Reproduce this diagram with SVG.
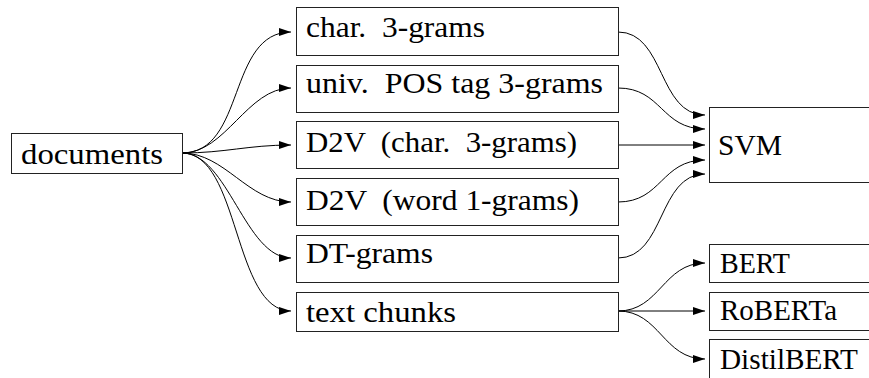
<svg xmlns="http://www.w3.org/2000/svg" width="869" height="378" viewBox="0 0 869 378">
<defs>
<marker id="arr" markerUnits="userSpaceOnUse" markerWidth="13" markerHeight="10" refX="12" refY="5" orient="auto" overflow="visible">
<path d="M0,1 L12,5 L0,9 Z" fill="#000"/>
</marker>
<style>
.box{fill:#fff;stroke:#222;stroke-width:1}
.lbl{font-family:"Liberation Serif","Times New Roman",serif;font-size:30px;fill:#000;white-space:pre}
.edge{fill:none;stroke:#000;stroke-width:1;marker-end:url(#arr)}
</style>
</defs>
<rect width="869" height="378" fill="#fff"/>
<g id="connectors">
<path class="edge" d="M182,153 C246,153 227,32 291,32"/>
<path class="edge" d="M182,153 C226,153 247,88 291,88"/>
<path class="edge" d="M182,153 C225,153 248,145 291,145"/>
<path class="edge" d="M182,153 C225,153 248,202 291,202"/>
<path class="edge" d="M182,153 C228,153 245,258 291,258"/>
<path class="edge" d="M182,153 C240,153 233,311 291,311"/>
<path class="edge" d="M618,32 C665,32 658,115 705,115"/>
<path class="edge" d="M618,88 C662,88 661,129 705,129"/>
<path class="edge" d="M618,145 L705,145"/>
<path class="edge" d="M618,202 C662,202 661,160 705,160"/>
<path class="edge" d="M618,258 C665,258 658,174 705,174"/>
<path class="edge" d="M618,311 C660,311 663,263 705,263"/>
<path class="edge" d="M618,311 L705,311"/>
<path class="edge" d="M618,311 C660,311 663,359 705,359"/>
</g>
<g id="documents">
<rect class="box" x="11.5" y="133.5" width="171" height="40"/>
<text class="lbl" x="21" y="164" textLength="142" lengthAdjust="spacingAndGlyphs">documents</text>
</g>
<g id="char3">
<rect class="box" x="296.5" y="7.5" width="322" height="48"/>
<text class="lbl" x="306" y="37" textLength="179" lengthAdjust="spacingAndGlyphs" xml:space="preserve">char.  3-grams</text>
</g>
<g id="pos3">
<rect class="box" x="296.5" y="65.5" width="322" height="47"/>
<text class="lbl" x="306" y="93" textLength="297" lengthAdjust="spacingAndGlyphs" xml:space="preserve">univ.  POS tag 3-grams</text>
</g>
<g id="d2vchar">
<rect class="box" x="296.5" y="121.5" width="322" height="47"/>
<text class="lbl" x="306" y="152" textLength="271" lengthAdjust="spacingAndGlyphs" xml:space="preserve">D2V  (char.  3-grams)</text>
</g>
<g id="d2vword">
<rect class="box" x="296.5" y="178.5" width="322" height="47"/>
<text class="lbl" x="306" y="210" textLength="273" lengthAdjust="spacingAndGlyphs" xml:space="preserve">D2V  (word 1-grams)</text>
</g>
<g id="dtgrams">
<rect class="box" x="296.5" y="235.5" width="322" height="47"/>
<text class="lbl" x="306" y="263" textLength="127" lengthAdjust="spacingAndGlyphs">DT-grams</text>
</g>
<g id="chunks">
<rect class="box" x="296.5" y="292.5" width="322" height="39"/>
<text class="lbl" x="306" y="322" textLength="150" lengthAdjust="spacingAndGlyphs">text chunks</text>
</g>
<g id="svm">
<rect class="box" x="709.5" y="107.5" width="200" height="75"/>
<text class="lbl" x="718" y="155" textLength="64" lengthAdjust="spacingAndGlyphs">SVM</text>
</g>
<g id="bert">
<rect class="box" x="709.5" y="244.5" width="200" height="38"/>
<text class="lbl" x="720" y="273" textLength="70" lengthAdjust="spacingAndGlyphs">BERT</text>
</g>
<g id="roberta">
<rect class="box" x="709.5" y="292.5" width="200" height="38"/>
<text class="lbl" x="720" y="320" textLength="117" lengthAdjust="spacingAndGlyphs">RoBERTa</text>
</g>
<g id="distilbert">
<rect class="box" x="709.5" y="339.5" width="200" height="60"/>
<text class="lbl" x="720" y="369" textLength="138" lengthAdjust="spacingAndGlyphs">DistilBERT</text>
</g>
</svg>
